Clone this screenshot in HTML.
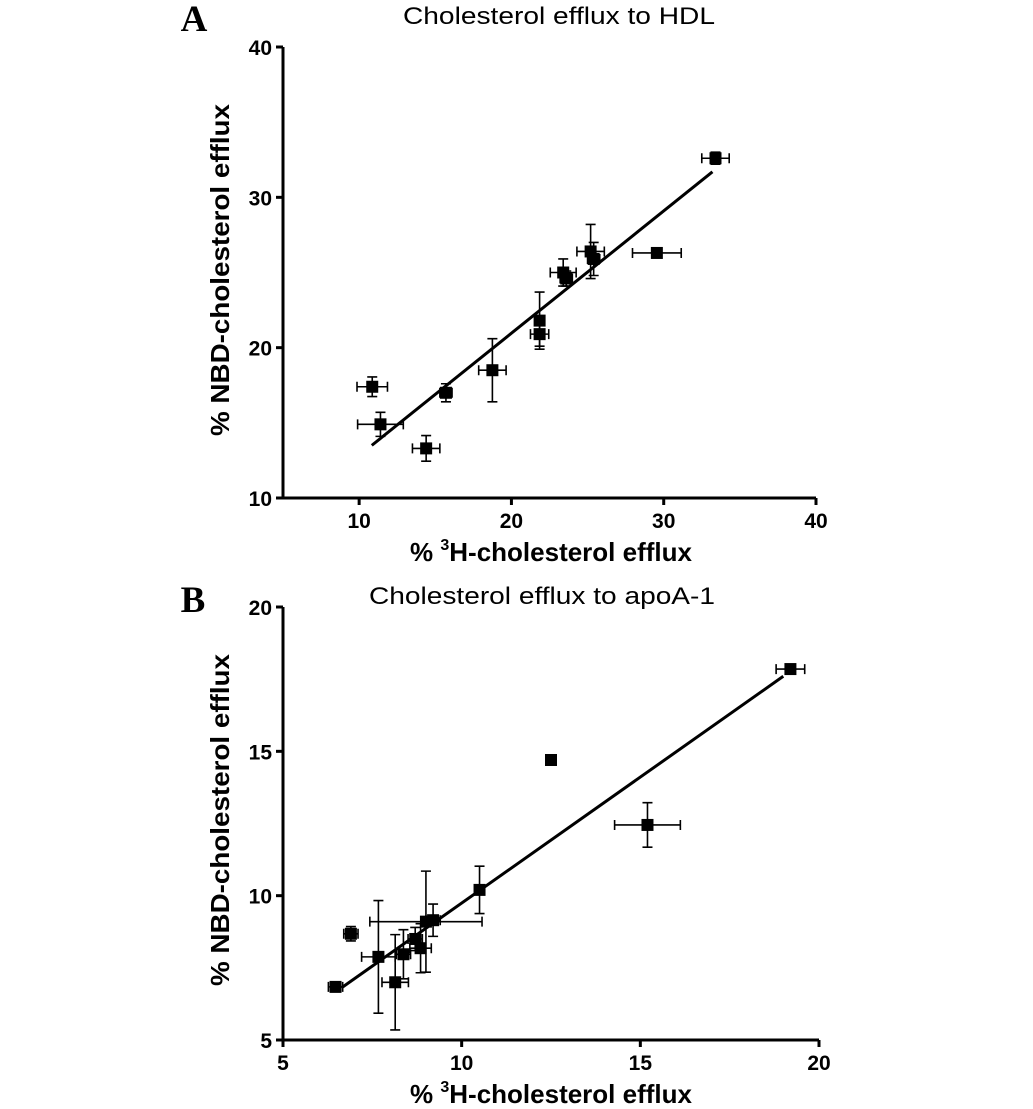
<!DOCTYPE html>
<html><head><meta charset="utf-8"><style>
html,body{margin:0;padding:0;background:#fff;}
svg{display:block;}
</style></head><body>
<svg id="fig" width="1033" height="1109" viewBox="0 0 1033 1109" xmlns="http://www.w3.org/2000/svg">
<text x="194" y="31" font-family="Liberation Serif, serif" font-weight="bold" font-size="37" text-anchor="middle">A</text>
<text x="193" y="612" font-family="Liberation Serif, serif" font-weight="bold" font-size="37" text-anchor="middle">B</text>
</svg>
<script>
// Panel A data
const aX = [10.86, 11.4, 14.4, 15.7, 18.75, 21.85, 21.85, 23.4, 23.6, 25.2, 25.4, 29.55, 33.4];
const aY = [17.4, 14.9, 13.3, 17.0, 18.5, 21.8, 20.9, 25.0, 24.6, 26.4, 25.9, 26.3, 32.6];
const aXErr = [1.0, 1.5, 0.9, 0.4, 0.9, 0.3, 0.6, 0.85, 0.4, 0.9, 0.4, 1.6, 0.9];
const aYErr = [0.65, 0.8, 0.85, 0.6, 2.1, 1.9, 0.8, 0.9, 0.5, 1.8, 1.1, 0.3, 0.4];
const aFitX = [10.83, 33.2];
const aFitY = [13.5, 31.7];
const aXTicks = [10, 20, 30, 40];
const aYTicks = [10, 20, 30, 40];
// Panel B data
const bX = [6.47, 6.9, 7.67, 8.14, 8.37, 8.7, 8.85, 9.0, 9.2, 10.5, 12.5, 15.2, 19.2];
const bY = [6.84, 8.68, 7.88, 7.0, 7.97, 8.5, 8.18, 9.1, 9.15, 10.2, 14.7, 12.45, 17.85];
const bXErr = [0.2, 0.2, 0.47, 0.37, 0.2, 0.2, 0.3, 1.57, 0.2, 0.1, 0, 0.92, 0.4];
const bYErr = [0.1, 0.25, 1.95, 1.65, 0.85, 0.4, 0.85, 1.75, 0.56, 0.82, 0, 0.77, 0.15];
const bFitX = [6.64, 19.0];
const bFitY = [6.81, 17.6];
const bXTicks = [5, 10, 15, 20];
const bYTicks = [5, 10, 15, 20];

const NS = 'http://www.w3.org/2000/svg';
const svg = document.getElementById('fig');
function mk(tag, attrs, parent){const e=document.createElementNS(NS,tag);for(const k in attrs)e.setAttribute(k,attrs[k]);(parent||svg).appendChild(e);return e;}

function panel(p){
  const g = mk('g',{});
  
  
  const sx = v => p.x0 + (v - p.xmin) / (p.xmax - p.xmin) * (p.x1 - p.x0);
  const sy = v => p.y0 - (v - p.ymin) / (p.ymax - p.ymin) * (p.y0 - p.y1);
  const ax = mk('path',{d:`M${p.x0} ${p.y1} V${p.y0} H${p.x1}`, fill:'none', stroke:'#000','stroke-width':3},g);
  
  
  p.xt.forEach(t=>{
    mk('line',{x1:sx(t),x2:sx(t),y1:p.y0,y2:p.y0+7,stroke:'#000','stroke-width':3},g);
    const tx = mk('text',{x:sx(t),y:p.y0+30,'font-family':'Liberation Sans, sans-serif','font-weight':'bold','font-size':21,'text-anchor':'middle'},g);
    tx.textContent = t;
    
    
  });
  p.yt.forEach(t=>{
    mk('line',{x1:p.x0-7,x2:p.x0,y1:sy(t),y2:sy(t),stroke:'#000','stroke-width':3},g);
    const tx = mk('text',{x:p.x0-11,y:sy(t)+8,'font-family':'Liberation Sans, sans-serif','font-weight':'bold','font-size':21,'text-anchor':'end'},g);
    tx.textContent = t;
    
    
  });
  const fit = mk('line',{x1:sx(p.fx[0]),y1:sy(p.fy[0]),x2:sx(p.fx[1]),y2:sy(p.fy[1]),stroke:'#000','stroke-width':3},g);
  
  
  p.xs.forEach((xv,i)=>{
    const cx=sx(xv), cy=sy(p.ys[i]);
    const pg = mk('g',{},g);
    
    
    const ex=p.xe[i], ey=p.ye[i];
    if(ex>0){
      const l=sx(xv-ex), r=sx(xv+ex);
      mk('path',{d:`M${l} ${cy}H${r}M${l} ${cy-5}V${cy+5}M${r} ${cy-5}V${cy+5}`,stroke:'#000','stroke-width':1.6,fill:'none'},pg);
    }
    if(ey>0){
      const t=sy(p.ys[i]+ey), b=sy(p.ys[i]-ey);
      mk('path',{d:`M${cx} ${t}V${b}M${cx-5} ${t}H${cx+5}M${cx-5} ${b}H${cx+5}`,stroke:'#000','stroke-width':1.6,fill:'none'},pg);
    }
    mk('rect',{x:cx-6,y:cy-6,width:12,height:12,fill:'#000'},pg);
  });
  const title = mk('text',{x:p.titleX,y:p.titleY,'font-family':'Liberation Sans, sans-serif','font-size':24,'text-anchor':'middle',textLength:p.titleW,lengthAdjust:'spacingAndGlyphs'},g);
  title.textContent = p.title;
  
  
  const xl = mk('text',{x:551,y:p.y0+63,'font-family':'Liberation Sans, sans-serif','font-weight':'bold','font-size':26,'text-anchor':'middle'},g);
  xl.innerHTML = '% <tspan font-size="16" dy="-11">3</tspan><tspan dy="11">H-cholesterol efflux</tspan>';
  
  
  const yl = mk('text',{x:0,y:0,transform:`translate(229 ${p.ylMid}) rotate(-90)`,'font-family':'Liberation Sans, sans-serif','font-weight':'bold','font-size':26,'text-anchor':'middle',textLength:332,lengthAdjust:'spacingAndGlyphs'},g);
  yl.textContent = '% NBD-cholesterol efflux';
  
  
}
panel({id:'panel-a',x0:283,x1:816,y0:498,y1:47,xmin:5,xmax:40,ymin:10,ymax:40,xt:aXTicks,yt:aYTicks,xs:aX,ys:aY,xe:aXErr,ye:aYErr,fx:aFitX,fy:aFitY,title:'Cholesterol efflux to HDL',titleX:559,titleW:312,titleY:24,ylMid:270});
panel({id:'panel-b',x0:283,x1:819,y0:1040,y1:607,xmin:5,xmax:20,ymin:5,ymax:20,xt:bXTicks,yt:bYTicks,xs:bX,ys:bY,xe:bXErr,ye:bYErr,fx:bFitX,fy:bFitY,title:'Cholesterol efflux to apoA-1',titleX:542,titleW:346,titleY:604,ylMid:820});
</script>
</body></html>
